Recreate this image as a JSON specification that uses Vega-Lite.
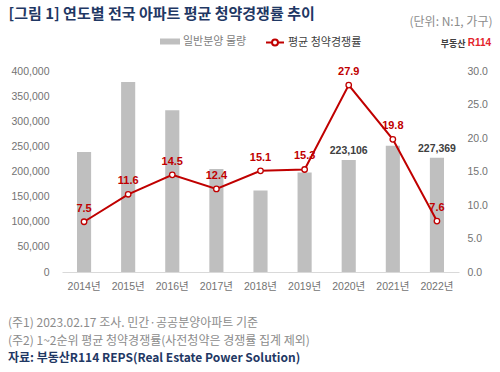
{
  "$schema": "https://vega.github.io/schema/vega-lite/v6.json",
  "width": 397,
  "height": 201,
  "autosize": {"type": "none"},
  "padding": {"left": 62, "top": 71, "right": 41, "bottom": 100},
  "background": "white",
  "config": {
    "font": "Liberation Sans, Noto Sans CJK KR",
    "view": {"stroke": null},
    "axis": {"labelFont": "Liberation Sans, Noto Sans CJK KR", "titleFont": "Noto Sans CJK KR"},
    "legend": {"labelFont": "Noto Sans CJK KR"}
  },
  "title": {
    "text": ["(주1) 2023.02.17 조사. 민간·공공분양아파트 기준", "(주2) 1~2순위 평균 청약경쟁률(사전청약은 경쟁률 집계 제외)"],
    "subtitle": "자료: 부동산R114 REPS(Real Estate Power Solution)",
    "orient": "bottom",
    "anchor": "start",
    "frame": "bounds",
    "offset": 26,
    "font": "Noto Sans CJK KR",
    "fontSize": 12,
    "fontWeight": "normal",
    "color": "#8c8c8c",
    "lineHeight": 18.5,
    "subtitleFont": "Noto Sans CJK KR",
    "subtitleFontSize": 12,
    "subtitleFontWeight": "bold",
    "subtitleColor": "#1f3864",
    "subtitlePadding": 5
  },
  "data": {
    "values": [
      {"year": "2014년", "supply": 239000, "rate": 7.5},
      {"year": "2015년", "supply": 378000, "rate": 11.6},
      {"year": "2016년", "supply": 322000, "rate": 14.5},
      {"year": "2017년", "supply": 205000, "rate": 12.4},
      {"year": "2018년", "supply": 162000, "rate": 15.1},
      {"year": "2019년", "supply": 198000, "rate": 15.3},
      {"year": "2020년", "supply": 223106, "rate": 27.9},
      {"year": "2021년", "supply": 251000, "rate": 19.8},
      {"year": "2022년", "supply": 227369, "rate": 7.6}
    ]
  },
  "layer": [
    {
      "encoding": {
        "x": {
          "field": "year", "type": "nominal", "sort": null,
          "scale": {"paddingInner": 0.68, "paddingOuter": 0.34},
          "axis": {
            "orient": "bottom", "domain": true, "domainColor": "#d9d9d9", "ticks": false, "grid": false,
            "labelAngle": 0, "labelPadding": 9, "labelFontSize": 10.5, "labelColor": "#737373",
            "title": "부동산", "titleX": 403, "titleY": -229, "titleAlign": "right", "titleBaseline": "middle",
            "titleFontSize": 9, "titleFontWeight": "bold", "titleColor": "#404040"
          }
        },
        "y": {
          "field": "supply", "type": "quantitative",
          "scale": {"domain": [0, 400000]},
          "axis": {
            "values": [0, 50000, 100000, 150000, 200000, 250000, 300000, 350000, 400000],
            "format": ",.0f", "domain": false, "ticks": false, "grid": false,
            "labelPadding": 13, "labelFontSize": 10.5, "labelColor": "#737373",
            "title": "[그림 1] 연도별 전국 아파트 평균 청약경쟁률 추이",
            "titleAngle": 0, "titleX": -54, "titleY": -53, "titleAlign": "left", "titleBaseline": "alphabetic",
            "titleFontSize": 15, "titleFontWeight": "bold", "titleColor": "#1f3864"
          }
        }
      },
      "layer": [
        {
          "mark": {"type": "bar"},
          "encoding": {
            "fill": {
              "datum": "일반분양 물량",
              "scale": {"range": ["#bfbfbf"]},
              "legend": {
                "orient": "none", "legendX": 98, "legendY": -39.5, "title": null, "padding": 0,
                "symbolType": "M-1,-0.3H1V0.3H-1Z", "symbolSize": 400, "symbolStrokeWidth": 0,
                "labelFontSize": 11, "labelColor": "#808080", "labelOffset": 3
              }
            }
          }
        },
        {
          "transform": [{"filter": "datum.year === '2020년' || datum.year === '2022년'"}],
          "mark": {"type": "text", "dy": -9, "fontSize": 10.5, "fontWeight": "bold", "color": "#404040"},
          "encoding": {"text": {"field": "supply", "type": "quantitative", "format": ",.0f"}}
        }
      ]
    },
    {
      "encoding": {
        "x": {
          "field": "year", "type": "nominal", "sort": null,
          "axis": {
            "orient": "top", "labels": false, "ticks": false, "domain": false, "grid": false,
            "title": "R114", "titleX": 417, "titleY": -29, "titleAlign": "center", "titleBaseline": "middle",
            "titleFontSize": 10, "titleFontWeight": "bold", "titleColor": "#e3242b", "titleFont": "Liberation Sans"
          }
        },
        "y": {
          "field": "rate", "type": "quantitative",
          "scale": {"domain": [0, 30]},
          "axis": {
            "orient": "right", "values": [0, 5, 10, 15, 20, 25, 30], "format": ".1f",
            "domain": false, "ticks": false, "grid": false,
            "labelPadding": 8, "labelFontSize": 10.5, "labelColor": "#737373",
            "title": "(단위: N:1, 가구)", "titleAngle": 0, "titleX": 33, "titleY": -50,
            "titleAlign": "right", "titleBaseline": "middle",
            "titleFontSize": 12, "titleFontWeight": "normal", "titleColor": "#8c8c8c"
          }
        }
      },
      "layer": [
        {
          "mark": {"type": "line", "strokeWidth": 2},
          "encoding": {
            "stroke": {
              "datum": "평균 청약경쟁률",
              "scale": {"range": ["#c00000"]},
              "legend": {
                "orient": "none", "legendX": 203, "legendY": -38.5, "title": null, "padding": 0,
                "symbolType": "M-1,0H-0.33M0.33,0H1M-0.33,0A0.33,0.33,0,1,1,0.33,0A0.33,0.33,0,1,1,-0.33,0",
                "symbolSize": 324, "symbolFillColor": "white", "symbolStrokeWidth": 2,
                "labelFontSize": 11, "labelColor": "#404040", "labelOffset": 3
              }
            }
          }
        },
        {
          "mark": {"type": "point", "shape": "circle", "filled": true, "fill": "white", "stroke": "#c00000", "strokeWidth": 1.3, "size": 30, "opacity": 1}
        },
        {
          "mark": {"type": "text", "dy": -13, "fontSize": 11, "fontWeight": "bold", "color": "#c00000"},
          "encoding": {"text": {"field": "rate", "type": "quantitative", "format": ".1f"}}
        }
      ]
    }
  ],
  "resolve": {"scale": {"y": "independent"}, "axis": {"x": "independent"}}
}
